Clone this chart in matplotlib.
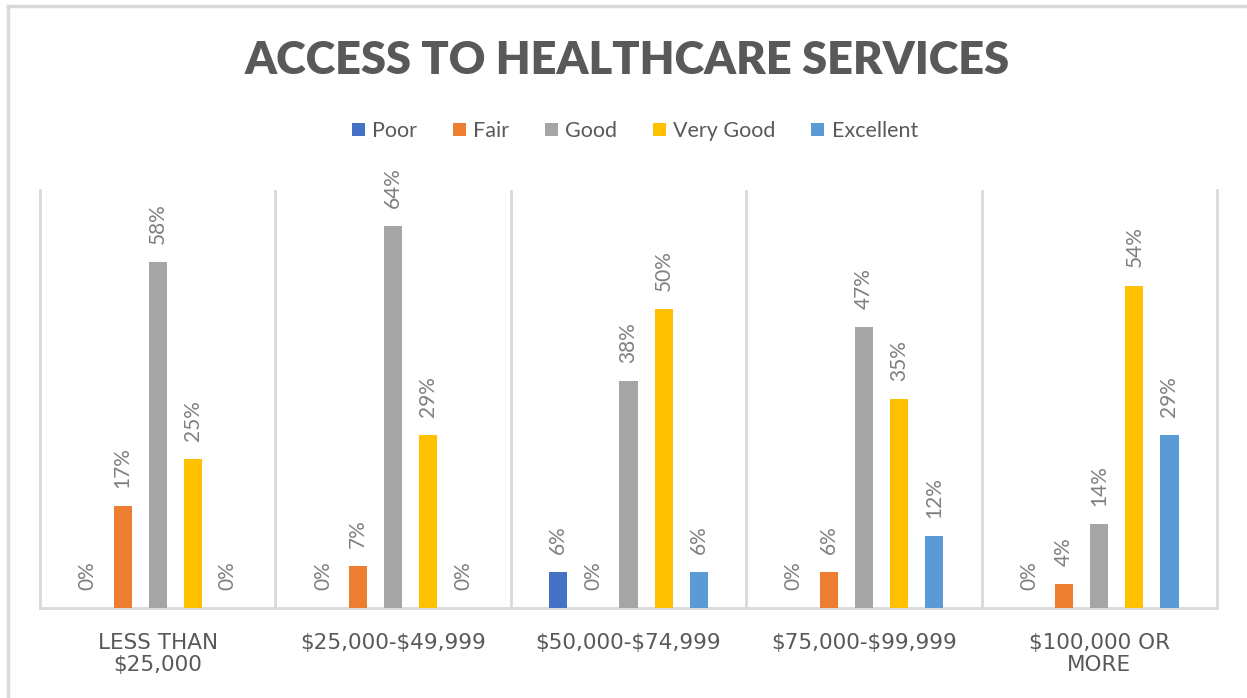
import matplotlib
matplotlib.use('Agg')
import matplotlib.pyplot as plt
import numpy as np
from matplotlib.lines import Line2D

plt.rcParams['font.family'] = ['Lato', 'DejaVu Sans']
plt.rcParams['text.parse_math'] = False

categories = ['LESS THAN\n$25,000', '$25,000-$49,999', '$50,000-$74,999',
              '$75,000-$99,999', '$100,000 OR\nMORE']
series = ['Poor', 'Fair', 'Good', 'Very Good', 'Excellent']
poor = [0, 0, 6, 0, 0]
fair = [17, 7, 0, 6, 4]
good = [58, 64, 38, 47, 14]
very_good = [25, 29, 50, 35, 54]
excellent = [0, 0, 6, 12, 29]
colors = ['#4472C4', '#ED7D31', '#A5A5A5', '#FFC000', '#5B9BD5']

values = [poor, fair, good, very_good, excellent]

fig = plt.figure(figsize=(12.47, 6.98), dpi=100)
ax = fig.add_axes([40/1247, 1-608/698, (1217-40)/1247, (608-190)/698])

x = np.arange(len(categories))
step = 0.149
width = 0.077
for i, (name, vals, col) in enumerate(zip(series, values, colors)):
    pos = x + (i - 2) * step
    bars = ax.bar(pos, vals, width, color=col, label=name, zorder=3)
    for b, v in zip(bars, vals):
        ax.annotate(f'{v}%', (b.get_x() + b.get_width()/2, v),
                    xytext=(0, 13), textcoords='offset points',
                    rotation=90, ha='center', va='bottom',
                    fontsize=15, color='#7f7f7f')

ax.set_xlim(-0.5, 4.5)
ax.set_ylim(0, 70)
grid_col = '#d9d9d9'
for s in ['left', 'right', 'bottom']:
    ax.spines[s].set_color(grid_col)
    ax.spines[s].set_linewidth(2)
ax.spines['top'].set_visible(False)
for sep in x[:-1] + 0.5:
    ax.axvline(sep, color=grid_col, lw=2, zorder=1)
ax.set_yticks([])
ax.set_xticks(x)
ax.set_xticklabels(categories, color='#595959', linespacing=1.15)
for lab in ax.get_xticklabels():
    lab.set_fontfamily(['DejaVu Sans'])
    lab.set_fontsize(15.5)
ax.tick_params(axis='x', length=0, pad=18)

fig.text(0.503, 1-60/698, 'ACCESS TO HEALTHCARE SERVICES', ha='center', va='center',
         fontsize=32.5, fontweight='heavy', color='#595959')

fig.legend(loc='center', bbox_to_anchor=(0.509, 1-131/698), ncol=5, frameon=False,
           fontsize=15.5, handlelength=0.6, handleheight=0.6, handletextpad=0.35,
           columnspacing=1.65, labelcolor='#595959')

# outer chart frame (top and left edges visible)
fig.add_artist(Line2D([8/1247, 8/1247], [0, 1-6/698], transform=fig.transFigure,
                      color=grid_col, lw=2.5))
fig.add_artist(Line2D([8/1247, 1], [1-6/698, 1-6/698], transform=fig.transFigure,
                      color=grid_col, lw=2.5))

fig.savefig('out.png', dpi=100)
